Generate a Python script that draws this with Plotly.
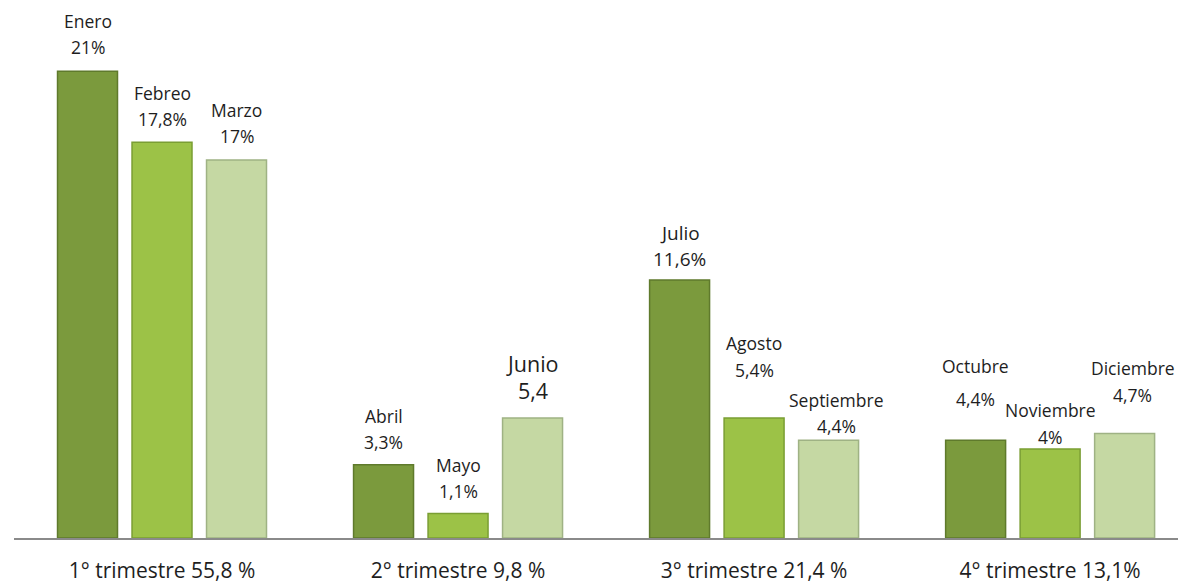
import plotly.graph_objects as go

# ---- data ----
quarters = ["1° trimestre 55,8 %", "2° trimestre 9,8 %", "3° trimestre 21,4 %", "4° trimestre 13,1%"]
months = ["Enero", "Febreo", "Marzo", "Abril", "Mayo", "Junio",
          "Julio", "Agosto", "Septiembre", "Octubre", "Noviembre", "Diciembre"]
values = [21, 17.8, 17, 3.3, 1.1, 5.4, 11.6, 5.4, 4.4, 4.4, 4, 4.7]
value_labels = ["21%", "17,8%", "17%", "3,3%", "1,1%", "5,4",
                "11,6%", "5,4%", "4,4%", "4,4%", "4%", "4,7%"]

# ---- label styling (pixel offsets of the hand-placed labels) ----
label_sizes = [17.5, 17.5, 17.5, 17.5, 17.5, 21.5, 19, 17.5, 17.5, 17.5, 17.5, 17.5]
label_gap = [17, 16, 17, 16, 16, 19, 14, 41, 7, 34, 5, 32]      # value baseline above bar top
label_dx = [0, 0, 0, 0, 0, 0, 0, 0, 8, 0, 0, 8]
line_step = [26, 26, 26, 26, 26, 27, 26, 27, 26, 33, 27, 27]

fills = ["#7b9a3d", "#9cc247", "#c5d8a3"]
edges = ["#5f7a2c", "#7a9e33", "#9fb284"]
group_offset = [-74.5, 0, 74.5]

fig = go.Figure()
annotations = []
for k in range(3):
    idx = [q * 3 + k for q in range(4)]
    fig.add_trace(go.Bar(
        x=quarters,
        y=[values[i] for i in idx],
        marker=dict(color=fills[k], line=dict(color=edges[k], width=1.5)),
        showlegend=False,
        hoverinfo="skip",
    ))
    for q, i in enumerate(idx):
        s = label_sizes[i]
        base_shift = label_gap[i] + 0.388 * s
        for txt, shift in ((value_labels[i], base_shift),
                           (months[i], base_shift + line_step[i])):
            annotations.append(dict(
                x=quarters[q], y=values[i], xref="x", yref="y",
                text=txt, showarrow=False, yanchor="middle", xanchor="center",
                xshift=group_offset[k] + label_dx[i], yshift=shift,
                font=dict(size=s, color="#1e1e1e", family="Open Sans"),
            ))

fig.update_layout(
    width=1178, height=584,
    margin=dict(l=14, r=0, t=0, b=44),
    paper_bgcolor="white", plot_bgcolor="white",
    barmode="group", bargap=0.245, bargroupgap=0.195,
    font=dict(family="Open Sans", color="#1e1e1e"),
    annotations=annotations,
)
fig.update_xaxes(
    range=[-0.5, 3.432], showline=True, linecolor="#8a8a8a", linewidth=1.5,
    showgrid=False, ticks="", tickfont=dict(size=21, color="#1e1e1e"),
    ticklabelstandoff=13,
)
fig.update_yaxes(range=[0, 24.2], visible=False, showgrid=False)

fig.write_html("out.html", config={"displayModeBar": False},
               post_script="document.body.style.margin='0';")
